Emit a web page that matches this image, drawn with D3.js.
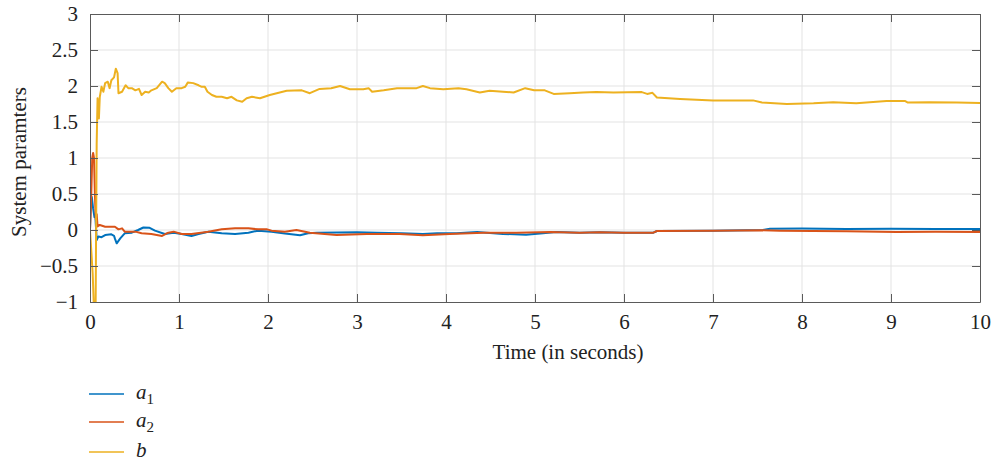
<!DOCTYPE html>
<html><head><meta charset="utf-8">
<script src="https://cdn.jsdelivr.net/npm/d3@7"></script>
<style>body{margin:0;background:#fff;} svg{display:block;} svg text{font-family:'Liberation Serif','DejaVu Serif',serif;}</style>
</head><body><svg id="c" width="993" height="464"></svg>
<script>
const xTicks = [0,1,2,3,4,5,6,7,8,9,10];
const yTicks = [-1,-0.5,0,0.5,1,1.5,2,2.5,3];
const yTickLabels = ["\u22121","\u22120.5","0","0.5","1","1.5","2","2.5","3"];
const seriesNames = ["a1","a2","b"];
const seriesColors = ["#0072BD","#D95319","#EDB120"];

const a1 = [[0,0],[0.008,0.39],[0.02,0.46],[0.035,0.3],[0.05,0.18],[0.06,0.2],[0.075,-0.14],[0.094,-0.09],[0.13,-0.1],[0.17,-0.07],[0.24,-0.06],[0.27,-0.08],[0.28,-0.12],[0.30,-0.185],[0.32,-0.15],[0.34,-0.116],[0.39,-0.046],[0.47,-0.037],[0.54,0],[0.6,0.035],[0.67,0.03],[0.73,-0.009],[0.84,-0.055],[0.94,-0.037],[1.03,-0.055],[1.14,-0.083],[1.22,-0.055],[1.33,-0.023],[1.48,-0.046],[1.63,-0.055],[1.78,-0.037],[1.89,-0.009],[2.04,-0.023],[2.19,-0.05],[2.36,-0.074],[2.45,-0.046],[2.55,-0.037],[3.0,-0.032],[3.22,-0.037],[3.5,-0.045],[3.74,-0.055],[3.9,-0.046],[4.12,-0.046],[4.35,-0.028],[4.64,-0.055],[4.9,-0.065],[5.09,-0.046],[5.24,-0.028],[5.5,-0.037],[5.73,-0.032],[6.0,-0.037],[6.33,-0.037],[6.37,-0.014],[7.0,-0.009],[7.56,0],[7.64,0.018],[8.0,0.02],[8.5,0.014],[9.0,0.016],[9.5,0.014],[10,0.014]];

const a2 = [[0,0],[0.01,0.3],[0.025,1.0],[0.035,1.07],[0.045,1.0],[0.055,0.5],[0.065,0.15],[0.075,0.22],[0.085,0.05],[0.11,0.07],[0.17,0.046],[0.28,0.046],[0.32,0.009],[0.36,0.023],[0.39,-0.023],[0.51,-0.023],[0.58,-0.046],[0.69,-0.055],[0.81,-0.083],[0.88,-0.037],[0.94,-0.023],[1.03,-0.055],[1.14,-0.055],[1.33,-0.023],[1.48,0.009],[1.63,0.023],[1.78,0.023],[1.89,0.009],[1.99,0.009],[2.04,-0.009],[2.19,-0.023],[2.32,0],[2.47,-0.037],[2.77,-0.069],[3.11,-0.055],[3.48,-0.055],[3.74,-0.074],[4.04,-0.055],[4.42,-0.037],[4.79,-0.037],[5.17,-0.028],[5.5,-0.037],[5.73,-0.032],[6.0,-0.037],[6.33,-0.037],[6.37,-0.014],[7.0,-0.009],[7.56,-0.005],[7.75,-0.009],[8.5,-0.018],[9.06,-0.028],[9.5,-0.026],[10,-0.028]];

const b = [[0,0],[0.03,-0.6],[0.05,-1.3],[0.062,-1.3],[0.075,1.2],[0.085,1.83],[0.1,1.55],[0.11,1.85],[0.13,1.99],[0.15,1.92],[0.17,2.04],[0.2,2.06],[0.22,1.97],[0.24,2.08],[0.27,2.12],[0.29,2.24],[0.31,2.18],[0.32,1.9],[0.36,1.92],[0.40,2.01],[0.43,1.97],[0.47,1.97],[0.51,1.94],[0.55,1.96],[0.58,1.875],[0.62,1.92],[0.66,1.91],[0.69,1.94],[0.75,1.97],[0.81,2.06],[0.84,2.04],[0.88,1.97],[0.92,1.92],[0.97,1.97],[1.03,1.97],[1.07,1.99],[1.10,2.05],[1.16,2.04],[1.22,2.01],[1.25,1.99],[1.29,1.99],[1.32,1.92],[1.37,1.875],[1.42,1.85],[1.48,1.85],[1.54,1.83],[1.59,1.85],[1.65,1.8],[1.71,1.78],[1.76,1.83],[1.82,1.85],[1.91,1.83],[2.02,1.875],[2.21,1.935],[2.38,1.94],[2.47,1.90],[2.58,1.96],[2.71,1.97],[2.81,2.0],[2.92,1.955],[3.07,1.955],[3.13,1.97],[3.17,1.92],[3.30,1.94],[3.45,1.97],[3.67,1.97],[3.74,2.0],[3.82,1.97],[3.97,1.955],[4.14,1.97],[4.23,1.955],[4.38,1.91],[4.49,1.935],[4.64,1.92],[4.76,1.91],[4.89,1.97],[4.99,1.94],[5.11,1.94],[5.21,1.89],[5.39,1.90],[5.54,1.91],[5.69,1.915],[5.88,1.91],[6.20,1.915],[6.26,1.89],[6.32,1.905],[6.37,1.84],[6.63,1.82],[7.0,1.80],[7.45,1.80],[7.55,1.77],[7.83,1.75],[8.13,1.76],[8.35,1.775],[8.61,1.76],[8.95,1.79],[9.16,1.79],[9.19,1.77],[9.43,1.775],[9.74,1.77],[10,1.765]];

const seriesData = [a1, a2, b];

const svg = d3.select("#c");
const L = 90, R = 980, T = 14, B = 302;
const x = d3.scaleLinear().domain([0,10]).range([L,R]);
const y = d3.scaleLinear().domain([-1,3]).range([B,T]);
const font = "'Liberation Serif', 'DejaVu Serif', serif";
const axisCol = "#5a5a5a";

svg.append("defs").append("clipPath").attr("id","clip")
  .append("rect").attr("x",L).attr("y",T).attr("width",R-L).attr("height",B-T);

// grid
svg.append("g").selectAll("line").data(xTicks.slice(1,-1)).join("line")
  .attr("x1",d=>x(d)).attr("x2",d=>x(d)).attr("y1",T).attr("y2",B)
  .attr("stroke","#e3e3e3").attr("stroke-width",1);
svg.append("g").selectAll("line").data(yTicks.slice(1,-1)).join("line")
  .attr("y1",d=>y(d)).attr("y2",d=>y(d)).attr("x1",L).attr("x2",R)
  .attr("stroke","#e3e3e3").attr("stroke-width",1);

// lines
const line = d3.line().x(d=>x(d[0])).y(d=>y(d[1]));
const gl = svg.append("g").attr("clip-path","url(#clip)");
[0,1,2].forEach(i=>{
  gl.append("path").datum(seriesData[i]).attr("d",line)
    .attr("fill","none").attr("stroke",seriesColors[i]).attr("stroke-width",2)
    .attr("stroke-linejoin","round");
});

// axes
const xa = d3.axisBottom(x).tickValues(xTicks).tickFormat(d3.format("d")).tickSizeInner(-8).tickSizeOuter(0).tickPadding(12);
const gx = svg.append("g").attr("transform",`translate(0,${B})`).call(xa);
const ya = d3.axisLeft(y).tickValues(yTicks).tickFormat((d,i)=>yTickLabels[i]).tickSizeInner(-8).tickSizeOuter(0).tickPadding(12);
const gy = svg.append("g").attr("transform",`translate(${L},0)`).call(ya);
[gx,gy].forEach(g=>{
  g.attr("font-family",null).attr("font-size",null);
  g.selectAll("path").attr("stroke",axisCol);
  g.selectAll("line").attr("stroke",axisCol);
  g.selectAll("text").style("font-family",font).style("font-size","21px").attr("fill","#222");
});
// top/right box with ticks
const xt = d3.axisTop(x).tickValues(xTicks).tickFormat("").tickSizeInner(-8).tickSizeOuter(0);
const gxt = svg.append("g").attr("transform",`translate(0,${T})`).call(xt);
const yr = d3.axisRight(y).tickValues(yTicks).tickFormat("").tickSizeInner(-8).tickSizeOuter(0);
const gyr = svg.append("g").attr("transform",`translate(${R},0)`).call(yr);
[gxt,gyr].forEach(g=>{ g.selectAll("path,line").attr("stroke",axisCol); });

// axis labels
svg.append("text").attr("x",568).attr("y",359).attr("text-anchor","middle")
  .style("font-family",font).style("font-size","21px").attr("fill","#222").text("Time (in seconds)");
svg.append("text").attr("transform",`translate(26,162) rotate(-90)`).attr("text-anchor","middle")
  .style("font-family",font).style("font-size","21px").attr("fill","#222").text("System paramters");

// legend
const legY = [394, 422, 452];
const legMain = ["a","a","b"];
const legSub = ["1","2",""];
seriesNames.forEach((n,i)=>{
  svg.append("line").attr("x1",89).attr("x2",124).attr("y1",legY[i]).attr("y2",legY[i])
    .attr("stroke",seriesColors[i]).attr("stroke-width",1.6);
  const t = svg.append("text").attr("x",136).attr("y",legY[i]+5)
    .style("font-family",font).style("font-size","21px").attr("fill","#222");
  t.append("tspan").attr("font-style","italic").text(legMain[i]);
  if (legSub[i]) t.append("tspan").attr("dy",5).style("font-size","15px").text(legSub[i]);
});
</script></body></html>
